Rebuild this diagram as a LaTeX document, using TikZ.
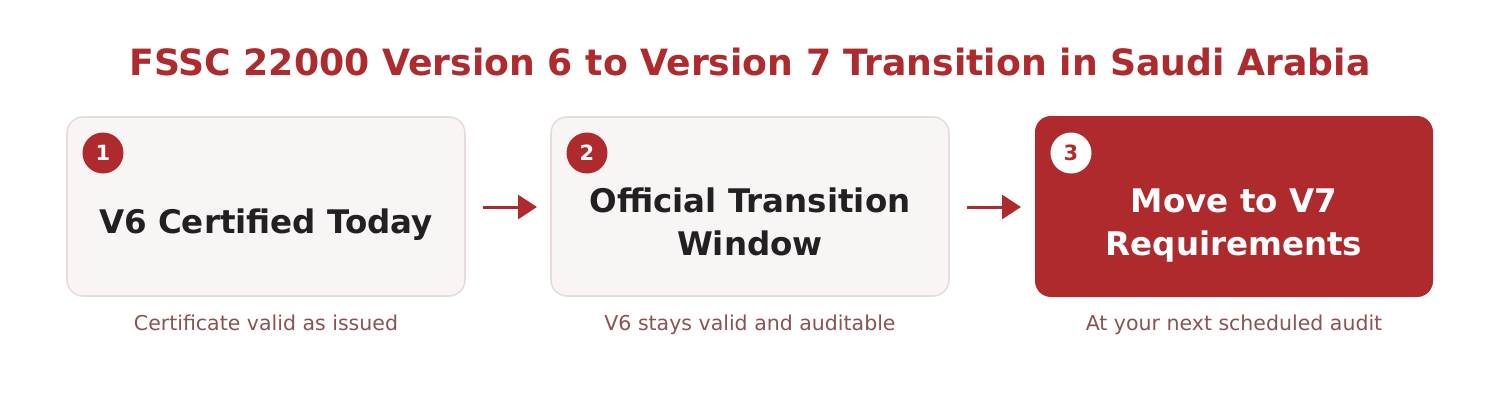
\documentclass[tikz,border=0pt]{standalone}
\usepackage{fontspec}
\setmainfont{DejaVu Sans}
\usetikzlibrary{arrows.meta}
\definecolor{brandred}{HTML}{AE2A2D}
\definecolor{boxfill}{HTML}{F9F5F4}
\definecolor{boxline}{HTML}{E8DCDA}
\definecolor{darktext}{HTML}{231F22}
\definecolor{subtext}{HTML}{8B5252}
\tikzset{
  x=1pt,y=1pt,
  stepbox/.style={draw=boxline, line width=1.6pt, fill=boxfill, rounded corners=16pt, minimum width=398pt, minimum height=179pt, inner sep=0pt},
  finalbox/.style={fill=brandred, rounded corners=16pt, minimum width=398pt, minimum height=181pt, inner sep=0pt},
  numcirc/.style={circle, fill=brandred, minimum size=41pt, inner sep=0pt, text=white, font=\bfseries\fontsize{21}{22}\selectfont},
  numcircw/.style={circle, fill=white, minimum size=41pt, inner sep=0pt, text=brandred, font=\bfseries\fontsize{21}{22}\selectfont},
  maintext/.style={align=center, font=\bfseries\fontsize{32.5}{43}\selectfont, text=darktext},
  subcap/.style={anchor=base, font=\fontsize{20.5}{22}\selectfont, text=subtext},
  flow/.style={draw=brandred, line width=3pt, -{Triangle[length=19pt,width=24pt]}}
}
\begin{document}
\begin{tikzpicture}
\useasboundingbox (0,0) rectangle (1500,408);
\fill[white] (0,0) rectangle (1500,408);
\node[font=\bfseries\fontsize{36.2}{40}\selectfont, text=brandred] (title) at (750,346) {FSSC 22000 Version 6 to Version 7 Transition in Saudi Arabia};
\node[stepbox] (b1) at (266,201.5) {};
\node[stepbox] (b2) at (750,201.5) {};
\node[finalbox] (b3) at (1234,201.5) {};
\node[numcirc] (c1) at (103,255) {1};
\node[numcirc] (c2) at (587,255) {2};
\node[numcircw] (c3) at (1071,255) {3};
\node[maintext] (t1) at (266,183) {V6 Certified Today};
\node[maintext] (t2) at (750,186.5) {Official Transition\\Window};
\node[maintext, text=white] (t3) at (1234,182.5) {Move to V7\\Requirements};
\node[subcap] (s1) at (266,77.5) {Certificate valid as issued};
\node[subcap] (s2) at (750,77.5) {V6 stays valid and auditable};
\node[subcap] (s3) at (1234,77.5) {At your next scheduled audit};
\coordinate (a1s) at (483,201);
\coordinate (a1e) at (537,201);
\coordinate (a2s) at (967,201);
\coordinate (a2e) at (1021,201);
\draw[flow] (a1s) -- (a1e);
\draw[flow] (a2s) -- (a2e);
\end{tikzpicture}
\end{document}
